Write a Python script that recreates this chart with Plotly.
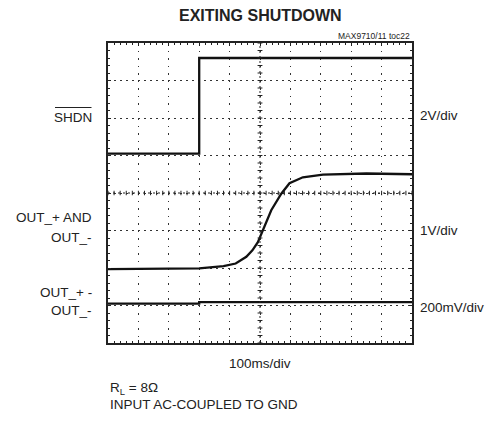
import plotly.graph_objects as go

# ---- data (time in divisions, voltage in divisions from bottom of screen) ----
shdn_t = [0, 3.0, 3.0, 10]
shdn_v = [5.05, 5.05, 7.6, 7.6]

out_t = [0, 1.5, 3.0, 3.8, 4.2, 4.55, 4.75, 4.93, 5.09, 5.37, 5.70, 5.97, 6.41, 7.07, 8.5, 10]
out_v = [1.97, 1.98, 1.99, 2.05, 2.12, 2.30, 2.47, 2.69, 3.0, 3.54, 3.98, 4.26, 4.42, 4.49, 4.52, 4.5]

diff_t = [0, 3.0, 3.0, 10]
diff_v = [1.05, 1.05, 1.09, 1.09]

X_DIV = 10
Y_DIV = 8

FONT = "Liberation Sans, Arial, sans-serif"

fig = go.Figure()
for t, v in [(shdn_t, shdn_v), (out_t, out_v), (diff_t, diff_v)]:
    fig.add_trace(go.Scatter(x=t, y=v, mode="lines",
                             line=dict(color="#111111", width=2.3),
                             showlegend=False, hoverinfo="skip"))

# centre cross-hair lines with small tick marks
shapes = []
cx, cy = X_DIV / 2, Y_DIV / 2
shapes.append(dict(type="line", x0=0, x1=X_DIV, y0=cy, y1=cy,
                   line=dict(color="#222", width=1, dash="2px,3px")))
shapes.append(dict(type="line", x0=cx, x1=cx, y0=0, y1=Y_DIV,
                   line=dict(color="#222", width=1, dash="2px,3px")))
path = ""
for i in range(int(X_DIV * 5) + 1):
    x = i * 0.2
    path += f"M{x},{cy-0.06} L{x},{cy+0.06} "
for i in range(int(Y_DIV * 5) + 1):
    y = i * 0.2
    path += f"M{cx-0.08},{y} L{cx+0.08},{y} "
shapes.append(dict(type="path", path=path, line=dict(color="#222", width=1)))

# overline for SHDN
shapes.append(dict(type="line", xref="paper", yref="paper",
                   x0=(55 - 108) / 304, x1=(91.5 - 108) / 304,
                   y0=(343 - 107.5) / 300, y1=(343 - 107.5) / 300,
                   line=dict(color="#222", width=1)))

ann = []
def a(text, x, y, size=13.5, xanchor="left", bold=False):
    ann.append(dict(text=f"<b>{text}</b>" if bold else text, x=x, y=y,
                    xref="paper", yref="paper", xanchor=xanchor, yanchor="middle",
                    showarrow=False, font=dict(family=FONT, size=size, color="#222")))

px = lambda p: (p - 108) / 304
py = lambda p: (343 - p) / 300

a("EXITING SHUTDOWN", 0.5, py(15), size=16, xanchor="center", bold=True)
a("MAX9710/11 toc22", 1.0, py(36), size=8.5, xanchor="right")
a("SHDN", px(94), py(117), xanchor="right")
a("OUT_+ AND", px(94), py(218), xanchor="right")
a("OUT_-", px(94), py(237), xanchor="right")
a("OUT_+ -", px(94), py(292), xanchor="right")
a("OUT_-", px(94), py(310), xanchor="right")
a("2V/div", px(418), py(115))
a("1V/div", px(418), py(230))
a("200mV/div", px(418), py(307))
a("100ms/div", 0.5, py(363), xanchor="center")
a("R<sub>L</sub> = 8Ω", px(108), py(388))
a("INPUT AC-COUPLED TO GND", px(108), py(404))

axis_common = dict(showline=True, linecolor="#222", linewidth=2, mirror="allticks",
                   ticks="inside", ticklen=3, tickcolor="#222", tickwidth=1,
                   dtick=1, tick0=0, showticklabels=False, zeroline=False,
                   showgrid=True, gridcolor="#333", gridwidth=1,
                   minor=dict(ticks="inside", ticklen=2, dtick=0.2, tickcolor="#222",
                              showgrid=False))

fig.update_layout(
    width=491, height=421,
    margin=dict(l=108, r=79, t=43, b=78),
    paper_bgcolor="white", plot_bgcolor="white",
    xaxis=dict(range=[0, X_DIV], griddash="1.5px,6px", **axis_common),
    yaxis=dict(range=[0, Y_DIV], griddash="1.5px,4.5px", **axis_common),
    shapes=shapes, annotations=ann,
)

fig.write_html("out.html", config={"displayModeBar": False, "staticPlot": True},
               post_script="document.body.style.margin='0';document.body.style.overflow='hidden';")
